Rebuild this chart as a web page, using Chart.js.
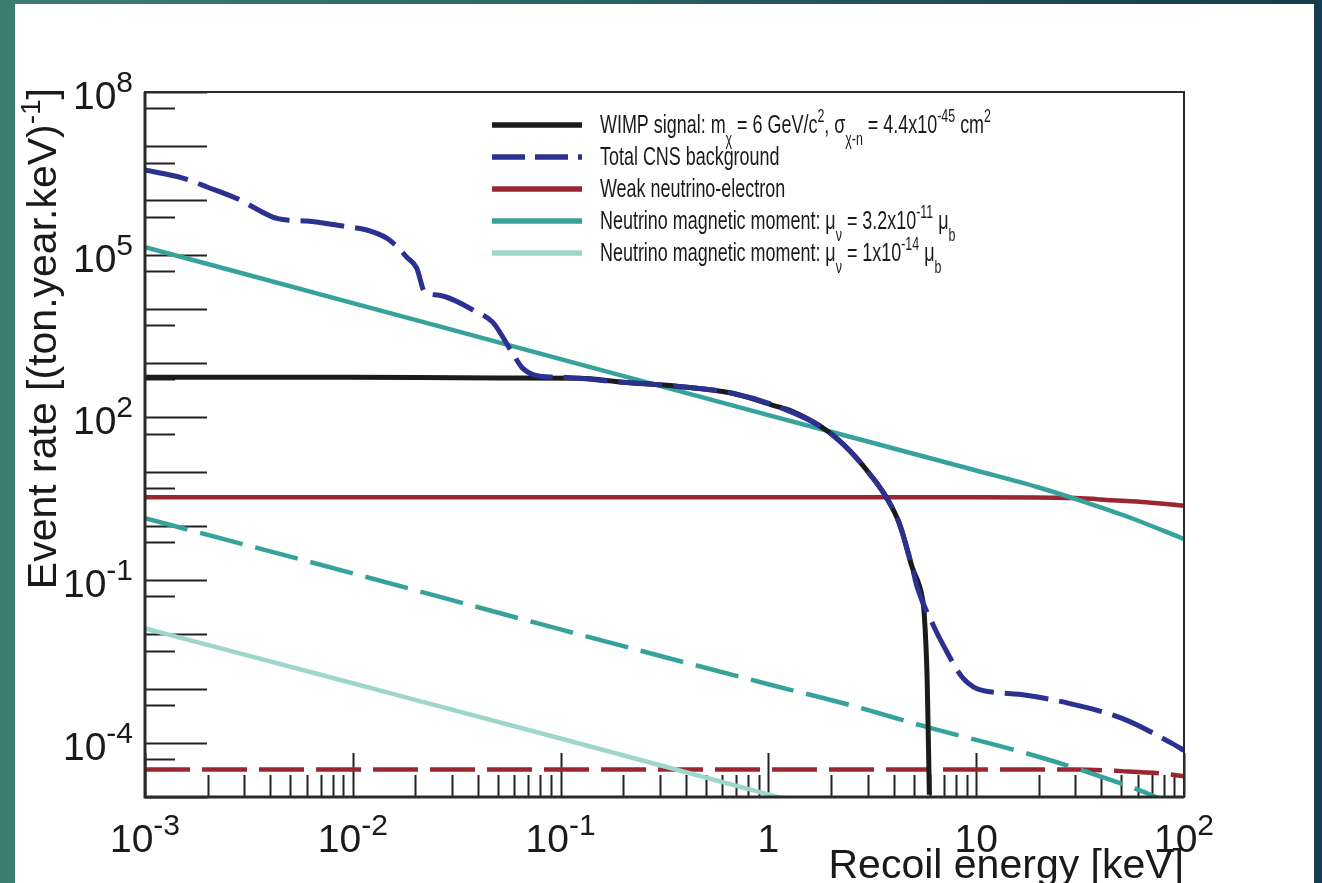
<!DOCTYPE html>
<html>
<head>
<meta charset="utf-8">
<script src="https://cdn.jsdelivr.net/npm/chart.js@4.4.0/dist/chart.umd.min.js"></script>
<style>
  html, body { margin: 0; padding: 0; }
  body {
    width: 1322px; height: 883px; overflow: hidden; position: relative;
    background: linear-gradient(to right, #3c7e73 0%, #2f6b67 35%, #214f5a 70%, #163c4d 100%);
  }
  #hoja { position: absolute; left: 15px; top: 4px; width: 1299px; height: 879px; background: #fff; }
  #myChart { position: absolute; left: 0; top: 0; }
</style>
</head>
<body>
<div id="hoja"></div>
<canvas id="myChart" width="1322" height="883"></canvas>
<script>
// DATOS
const wimpE = [0.001, 0.01, 0.05, 0.123, 0.1985, 0.361, 0.671, 1.13, 1.26, 1.9, 2.45, 3.16, 3.69, 4.26, 4.92, 5.5, 5.62, 5.81, 5.95]
const wimpRate = [552, 548, 535, 529, 446, 376, 279, 154, 136, 58, 24.8, 7.9, 3.37, 1.12, 0.172, 0.048, 0.0244, 0.0014, 0.000011]

const cnsE = [0.001, 0.00152, 0.00199, 0.00287, 0.00331, 0.00412, 0.00482, 0.00601, 0.00895, 0.01167, 0.01456, 0.01643, 0.01818, 0.0203, 0.0222, 0.0256, 0.0395, 0.0471, 0.0587, 0.0656, 0.0792, 0.0988, 0.1985, 0.361, 0.671, 1.13, 1.9, 2.45, 3.16, 3.69, 4.26, 4.92, 5.2, 6.28, 6.87, 8.57, 9.78, 10.7, 17.4, 28, 50.4, 87.5, 100]
const cnsRate = [3.64e6, 2.59e6, 1.77e6, 1.02e6, 7.55e5, 4.94e5, 4.35e5, 4.17e5, 3.37e5, 2.85e5, 2.02e5, 1.38e5, 9.03e4, 5.66e4, 2.04e4, 1.8e4, 8.74e3, 5.71e3, 1.53e3, 809, 575, 552, 446, 376, 279, 154, 58, 24.8, 7.9, 3.37, 1.12, 0.172, 0.0736, 0.0135, 6.82e-3, 1.61e-3, 1.05e-3, 9.27e-4, 7.5e-4, 5.33e-4, 2.82e-4, 9.75e-5, 7.24e-5]

const weakE = [0.001, 10, 30, 45, 66, 100]
const weakRate = [3.37, 3.37, 3.25, 2.97, 2.72, 2.35]

const weakDashE = [0.001, 30, 50, 78, 100]
const weakDashRate = [3.2e-5, 3.2e-5, 3.0e-5, 2.72e-5, 2.4e-5]

const mag1E = [0.001, 0.01, 0.1, 1, 10, 20, 31.3, 54.4, 100]
const mag1Rate = [1.38e5, 1.28e4, 1190, 110, 10.5, 5.1, 2.97, 1.44, 0.57]

const magDashE = [0.001, 0.01, 0.1, 1, 2.45, 5.94, 15.6, 32.4, 73.3, 100]
const magDashRate = [1.38, 0.133, 0.0123, 1.2e-3, 5.0e-4, 1.9e-4, 7.2e-5, 3.1e-5, 1e-5, 5.5e-6]

const mag2E = [0.001, 0.01, 0.1, 1, 2]
const mag2Rate = [0.0129, 1.25e-3, 1.2e-4, 1.12e-5, 5.6e-6]

// etiquetas de los ejes
const xTickValores = [0.001, 0.01, 0.1, 1, 10, 100]
const xTickTextos = [['10', '-3'], ['10', '-2'], ['10', '-1'], ['1', ''], ['10', ''], ['10', '2']]
const yTickValores = [1e8, 1e5, 1e2, 1e-1, 1e-4]
const yTickTextos = [['10', '8'], ['10', '5'], ['10', '2'], ['10', '-1'], ['10', '-4']]

const colores = {
  wimp: '#1b1b1b',
  cns: '#2a3190',
  weak: '#9b2531',
  mag1: '#36a29b',
  mag2: '#9ed6cb'
}

// leyenda: [texto, tipo] n = normal, sup, sub
const leyenda = [
  { color: colores.wimp, dash: [], partes: [['WIMP signal: m', 'n'], ['χ', 'sub'], [' = 6 GeV/c', 'n'], ['2', 'sup'], [', σ', 'n'], ['χ-n', 'sub'], [' = 4.4x10', 'n'], ['-45', 'sup'], [' cm', 'n'], ['2', 'sup']] },
  { color: colores.cns, dash: [33, 10], partes: [['Total CNS background', 'n']] },
  { color: colores.weak, dash: [], partes: [['Weak neutrino-electron', 'n']] },
  { color: colores.mag1, dash: [], partes: [['Neutrino magnetic moment: μ', 'n'], ['ν', 'sub'], [' = 3.2x10', 'n'], ['-11', 'sup'], [' μ', 'n'], ['b', 'sub']] },
  { color: colores.mag2, dash: [], partes: [['Neutrino magnetic moment: μ', 'n'], ['ν', 'sub'], [' = 1x10', 'n'], ['-14', 'sup'], [' μ', 'n'], ['b', 'sub']] }
]

const pares = (xs, ys) => xs.map((x, i) => ({ x: x, y: ys[i] }))

const FUENTE = '"Liberation Sans", Arial, Helvetica, sans-serif'

// texto con super/subindices
function medirRico(ctx, partes, base, chico, sx) {
  let w = 0
  partes.forEach(([t, k]) => {
    ctx.font = (k == 'n' ? base : chico) + 'px ' + FUENTE
    w += ctx.measureText(t).width * sx
  })
  return w
}

function dibujarRico(ctx, partes, x, y, opc) {
  const base = opc.base, chico = opc.chico, sx = opc.sx || 1
  let cx = x
  if (opc.align == 'right') cx = x - medirRico(ctx, partes, base, chico, sx)
  if (opc.align == 'center') cx = x - medirRico(ctx, partes, base, chico, sx) / 2
  partes.forEach(([t, k]) => {
    ctx.font = (k == 'n' ? base : chico) + 'px ' + FUENTE
    let dy = 0
    if (k == 'sup') dy = -opc.sube
    if (k == 'sub') dy = opc.baja
    ctx.save()
    ctx.translate(cx, y + dy)
    ctx.scale(sx, 1)
    ctx.fillText(t, 0, 0)
    ctx.restore()
    cx += ctx.measureText(t).width * sx
  })
}

const ejes = {
  id: 'ejes',
  beforeDatasetsDraw(chart) {
    const { ctx, chartArea: a, scales: { x, y } } = chart
    ctx.save()
    ctx.strokeStyle = '#222'
    ctx.lineWidth = 2
    const linea = (x1, y1, x2, y2) => { ctx.beginPath(); ctx.moveTo(x1, y1); ctx.lineTo(x2, y2); ctx.stroke() }
    // eje y: decadas largas, 5x10^n cortas
    for (let n = -5; n <= 8; n++) {
      const py = Math.round(y.getPixelForValue(Math.pow(10, n))) + 0.5
      linea(a.left, py, a.left + 62, py)
      if (n < 8) {
        const pm = Math.round(y.getPixelForValue(5 * Math.pow(10, n))) + 0.5
        linea(a.left, pm, a.left + 30, pm)
      }
    }
    // eje x
    for (let n = -3; n <= 2; n++) {
      const px = Math.round(x.getPixelForValue(Math.pow(10, n))) + 0.5
      linea(px, a.bottom, px, a.bottom - 44)
      if (n < 2) {
        for (let m = 2; m <= 9; m++) {
          const pm = Math.round(x.getPixelForValue(m * Math.pow(10, n))) + 0.5
          linea(pm, a.bottom, pm, a.bottom - 22)
        }
      }
    }
    ctx.restore()
  },
  afterDatasetsDraw(chart) {
    const { ctx, chartArea: a, scales: { x, y } } = chart
    ctx.save()
    // marco
    ctx.strokeStyle = '#2a2a2a'
    ctx.lineWidth = 2
    ctx.strokeRect(a.left, a.top, a.right - a.left, a.bottom - a.top)
    ctx.lineWidth = 3
    ctx.beginPath(); ctx.moveTo(a.left, a.top); ctx.lineTo(a.left, a.bottom); ctx.lineTo(a.right, a.bottom); ctx.stroke()

    ctx.fillStyle = '#1a1a1a'
    ctx.textBaseline = 'alphabetic'
    // etiquetas eje x
    xTickValores.forEach((v, i) => {
      const px = x.getPixelForValue(v)
      const t = xTickTextos[i]
      const partes = t[1] ? [[t[0], 'n'], [t[1], 'sup']] : [[t[0], 'n']]
      dibujarRico(ctx, partes, px, 852, { base: 39, chico: 30, sube: 17, align: 'center' })
    })
    // etiquetas eje y
    yTickValores.forEach((v, i) => {
      const py = y.getPixelForValue(v)
      const t = yTickTextos[i]
      dibujarRico(ctx, [[t[0], 'n'], [t[1], 'sup']], 133, py + 17, { base: 39, chico: 30, sube: 17, align: 'right' })
    })
    // titulos
    dibujarRico(ctx, [['Recoil energy [keV]', 'n']], 1184, 878, { base: 41, chico: 28, align: 'right' })
    ctx.save()
    ctx.translate(56, 88)
    ctx.rotate(-Math.PI / 2)
    dibujarRico(ctx, [['Event rate [(ton.year.keV)', 'n'], ['-1', 'sup'], [']', 'n']], 0, 0, { base: 41, chico: 28, sube: 16, align: 'right' })
    ctx.restore()

    // leyenda
    leyenda.forEach((item, i) => {
      const ly = 125 + i * 32
      ctx.save()
      ctx.strokeStyle = item.color
      ctx.lineWidth = 5.5
      ctx.setLineDash(item.dash)
      ctx.beginPath(); ctx.moveTo(492, ly); ctx.lineTo(582, ly); ctx.stroke()
      ctx.restore()
      dibujarRico(ctx, item.partes, 600, ly + 8, { base: 26, chico: 18, sube: 11, baja: 12, sx: 0.69 })
    })
    ctx.restore()
  }
}

const serie = (datos, color, dash, ancho) => ({
  data: datos,
  borderColor: color,
  backgroundColor: color,
  borderWidth: ancho || 4.5,
  borderDash: dash,
  pointRadius: 0,
  fill: false,
  cubicInterpolationMode: 'monotone',
  clip: 0
})

let ctx = document.getElementById('myChart').getContext('2d')
let myChart = new Chart(ctx, {
  type: 'line',
  data: {
    datasets: [
      serie(pares(cnsE, cnsRate), colores.cns, [44, 11], 5),
      serie(pares(wimpE, wimpRate), colores.wimp, [], 5),
      serie(pares(mag1E, mag1Rate), colores.mag1, []),
      serie(pares(weakE, weakRate), colores.weak, []),
      serie(pares(magDashE, magDashRate), colores.mag1, [44, 13]),
      serie(pares(mag2E, mag2Rate), colores.mag2, []),
      serie(pares(weakDashE, weakDashRate), colores.weak, [45, 12])
    ]
  },
  options: {
    responsive: false,
    animation: false,
    devicePixelRatio: 1,
    layout: { padding: { left: 145, top: 92, right: 138, bottom: 86 } },
    plugins: { legend: { display: false }, tooltip: { enabled: false } },
    scales: {
      x: { type: 'logarithmic', min: 0.001, max: 100, display: false },
      y: { type: 'logarithmic', min: 1e-5, max: 1e8, display: false }
    }
  },
  plugins: [ejes]
})
</script>
</body>
</html>
